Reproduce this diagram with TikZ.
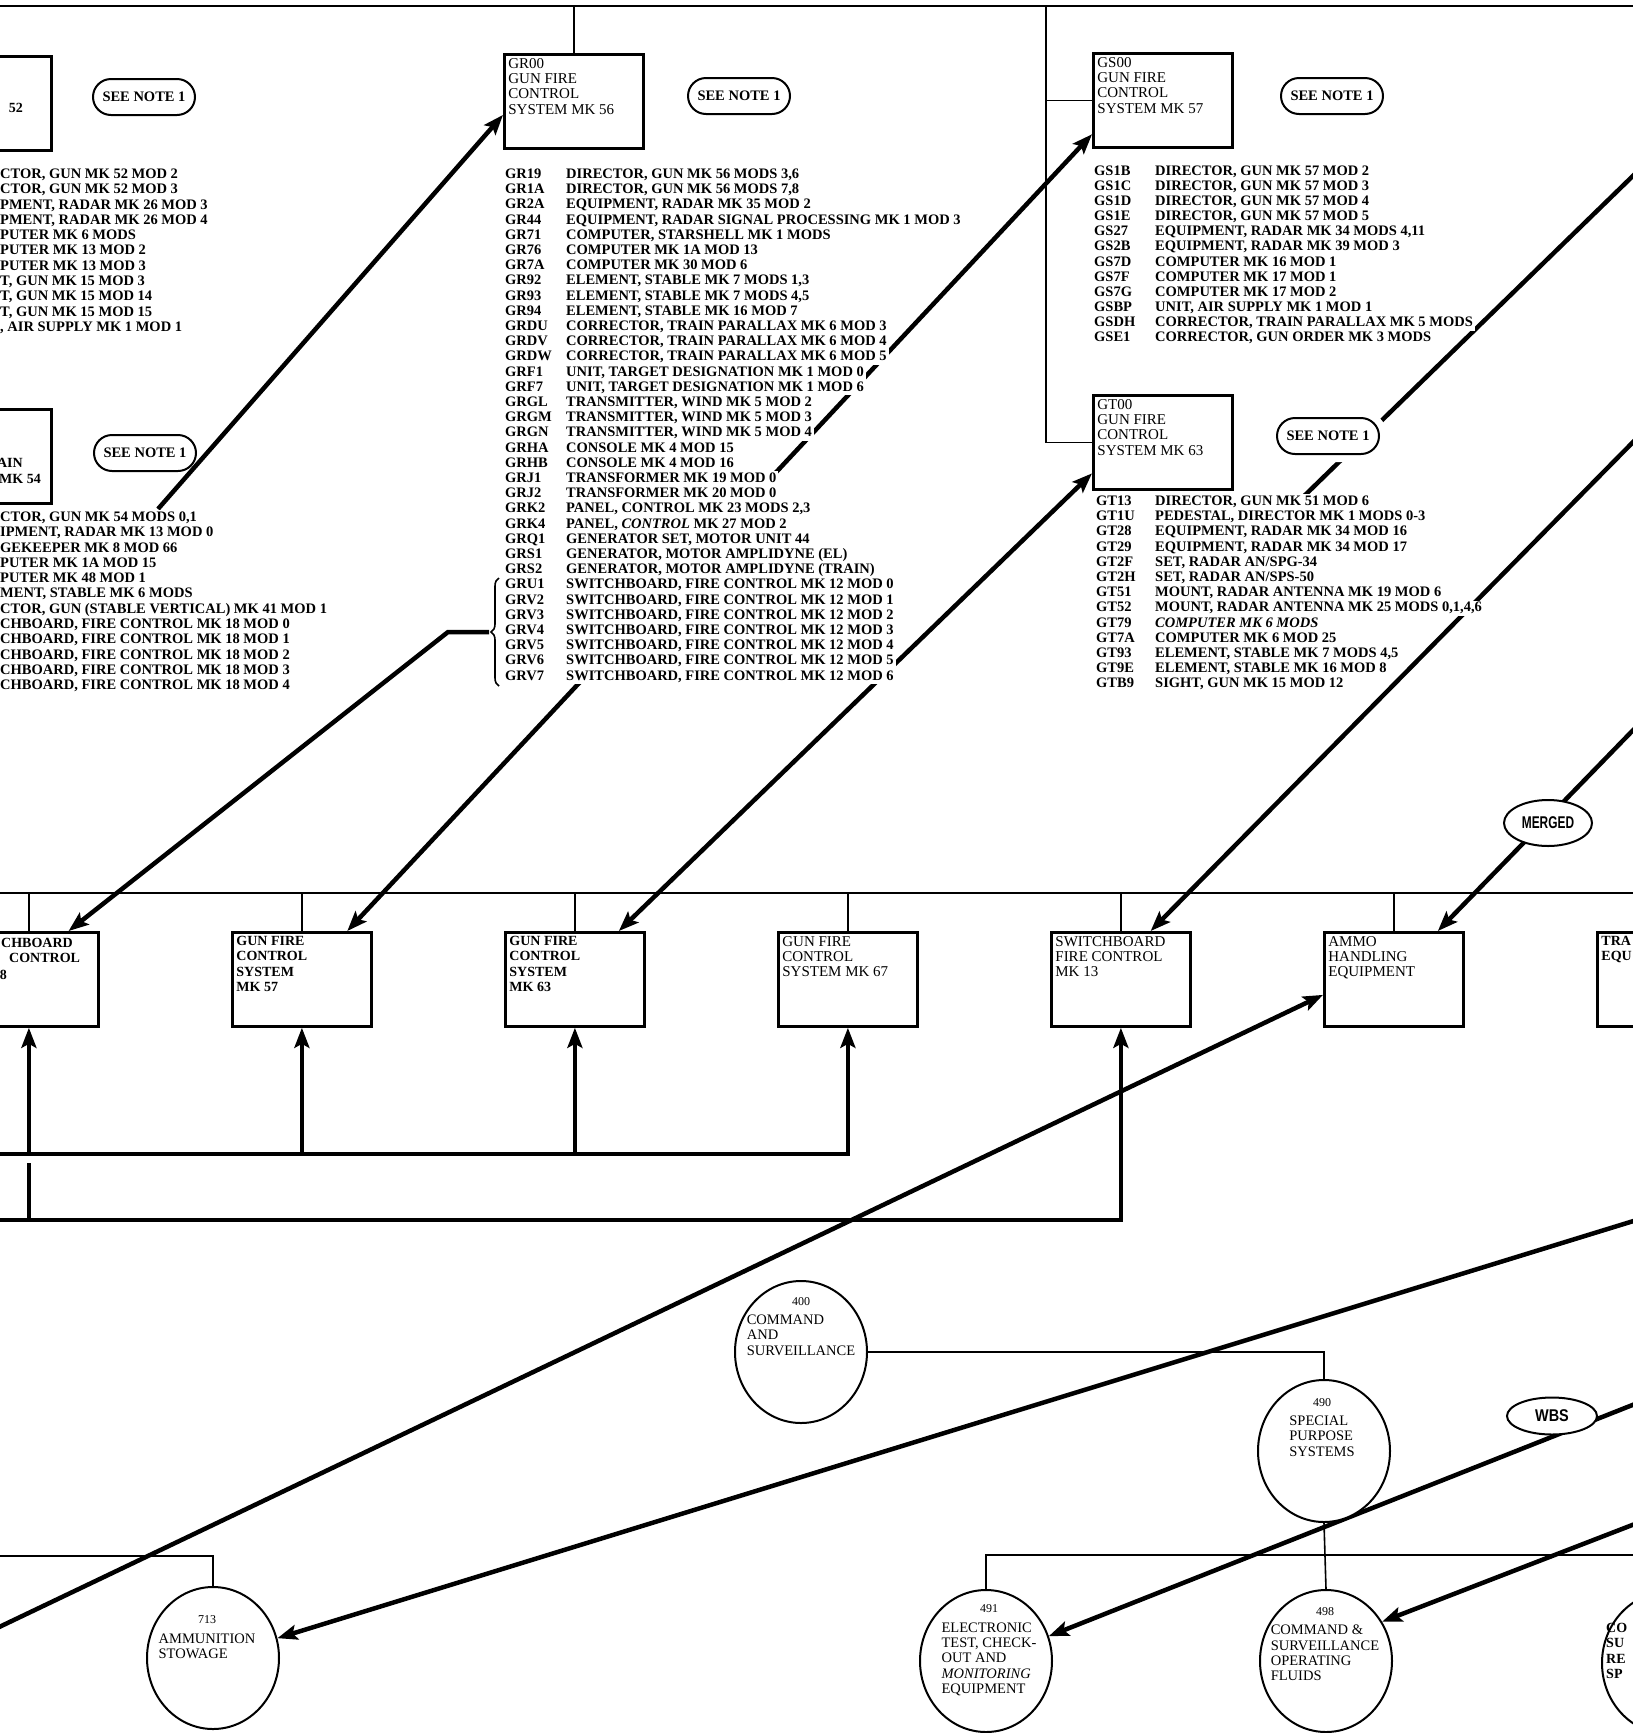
\documentclass[tikz,border=0pt]{standalone}
\usepackage{fontspec}
\usepackage{graphicx}
\setmainfont{Liberation Serif}
\newfontfamily\lettering{Liberation Sans}
\usepackage{tikz}
\usetikzlibrary{arrows.meta, calc, shapes.geometric, shapes.misc, decorations.pathreplacing}
\pgfdeclarelayer{lines}
\pgfsetlayers{lines,main}

\newcommand{\listfont}{\fontsize{14.5}{15.2}\selectfont\bfseries}
\newcommand{\boxfont}{\fontsize{15}{15.3}\selectfont}
\newcommand{\lowfont}{\fontsize{14}{15.3}\selectfont\bfseries}
\newcommand{\notefont}{\fontsize{14.5}{15}\selectfont\bfseries}
\newcommand{\unitfont}{\fontsize{14.5}{15.3}\selectfont}
\newcommand{\nofont}{\fontsize{12}{12}\selectfont}
\newcommand{\boxtxt}[1]{\begin{minipage}[t][86pt][t]{131pt}\raggedright #1\end{minipage}}

\begin{document}
\begin{tikzpicture}[x=1pt, y=-1pt,
    box/.style={draw, line width=2.8pt, inner sep=4pt, anchor=north west, fill=white, font=\boxfont},
    stub/.style={box, inner sep=0pt, minimum width=139pt, minimum height=94pt},
    row/.style={anchor=west, fill=white, inner xsep=2pt, inner ysep=0.6pt, text height=10.4pt, text depth=3.6pt, font=\listfont},
    note/.style={draw, line width=2pt, rounded rectangle, fill=white, minimum width=106pt, minimum height=36pt, inner sep=2pt, font=\notefont},
    halo/.style={preaction={draw=white, line width=16pt}},
    oval/.style={draw, line width=2pt, ellipse, fill=white, inner sep=0pt, font=\lettering\bfseries\fontsize{17}{17}\selectfont},
    unit/.style={draw, line width=2pt, ellipse, fill=white, inner sep=0pt, minimum width=132pt, minimum height=142pt},
    unittext/.style={inner sep=0pt, font=\unitfont},
    tree/.style={line width=1.6pt},
    link/.style={line width=4.5pt},
    arr/.style={link, -{Stealth[length=20pt, width=15pt, inset=4pt]}},
    dblarr/.style={link, {Stealth[length=20pt, width=15pt, inset=4pt]}-{Stealth[length=20pt, width=15pt, inset=4pt]}}
  ]
  \useasboundingbox (0,0) rectangle (1633,1733);
  \def\gap{15.2}

  % --- 1. upper systems and notes ---
  \node[box] (gr00) at (503,53) {\boxtxt{GR00\\GUN FIRE\\CONTROL\\SYSTEM MK 56}};
  \node[box] (gs00) at (1092,52) {\boxtxt{GS00\\GUN FIRE\\CONTROL\\SYSTEM MK 57}};
  \node[box] (gt00) at (1092,394) {\boxtxt{GT00\\GUN FIRE\\CONTROL\\SYSTEM MK 63}};
  \node[stub] (mk52) at (-89,55) {};
  \node[stub] (mk54) at (-89,408) {};
  \node[font=\lowfont, anchor=east, inner sep=0pt] (mk52t) at (23,108) {52};
  \node[font=\lowfont, anchor=east, inner sep=0pt] (mk54a) at (23,463) {AIN};
  \node[font=\lowfont, anchor=east, inner sep=0pt] (mk54b) at (41,479) {MK 54};

  \node[note] (noteA) at (144,97) {SEE NOTE 1};
  \node[note] (noteB) at (145,453) {SEE NOTE 1};
  \node[note] (noteR) at (739,96) {SEE NOTE 1};
  \node[note] (noteS) at (1332,96) {SEE NOTE 1};
  \node[note, halo] (noteT) at (1328,436) {SEE NOTE 1};

  % --- 2. item lists ---
  \foreach \d [count=\i from 0] in {{CTOR, GUN MK 52 MOD 2}, {CTOR, GUN MK 52 MOD 3},
      {PMENT, RADAR MK 26 MOD 3}, {PMENT, RADAR MK 26 MOD 4}, {PUTER MK 6 MODS},
      {PUTER MK 13 MOD 2}, {PUTER MK 13 MOD 3}, {T, GUN MK 15 MOD 3},
      {T, GUN MK 15 MOD 14}, {T, GUN MK 15 MOD 15}, {, AIR SUPPLY MK 1 MOD 1}}
    \node[row, inner xsep=0pt] (la\i) at (0,175+15.3*\i) {\d};

  \foreach \d [count=\i from 0] in {{CTOR, GUN MK 54 MODS 0,1}, {IPMENT, RADAR MK 13 MOD 0},
      {GEKEEPER MK 8 MOD 66}, {PUTER MK 1A MOD 15}, {PUTER MK 48 MOD 1},
      {MENT, STABLE MK 6 MODS}, {CTOR, GUN (STABLE VERTICAL) MK 41 MOD 1},
      {CHBOARD, FIRE CONTROL MK 18 MOD 0}, {CHBOARD, FIRE CONTROL MK 18 MOD 1},
      {CHBOARD, FIRE CONTROL MK 18 MOD 2}, {CHBOARD, FIRE CONTROL MK 18 MOD 3},
      {CHBOARD, FIRE CONTROL MK 18 MOD 4}}
    \node[row, inner xsep=0pt] (lb\i) at (0,518+15.3*\i) {\d};

  \foreach \c/\d [count=\i from 0] in {GR19/{DIRECTOR, GUN MK 56 MODS 3,6},
      GR1A/{DIRECTOR, GUN MK 56 MODS 7,8}, GR2A/{EQUIPMENT, RADAR MK 35 MOD 2},
      GR44/{EQUIPMENT, RADAR SIGNAL PROCESSING MK 1 MOD 3},
      GR71/{COMPUTER, STARSHELL MK 1 MODS}, GR76/{COMPUTER MK 1A MOD 13},
      GR7A/{COMPUTER MK 30 MOD 6}, GR92/{ELEMENT, STABLE MK 7 MODS 1,3},
      GR93/{ELEMENT, STABLE MK 7 MODS 4,5}, GR94/{ELEMENT, STABLE MK 16 MOD 7},
      GRDU/{CORRECTOR, TRAIN PARALLAX MK 6 MOD 3}, GRDV/{CORRECTOR, TRAIN PARALLAX MK 6 MOD 4},
      GRDW/{CORRECTOR, TRAIN PARALLAX MK 6 MOD 5}, GRF1/{UNIT, TARGET DESIGNATION MK 1 MOD 0},
      GRF7/{UNIT, TARGET DESIGNATION MK 1 MOD 6}, GRGL/{TRANSMITTER, WIND MK 5 MOD 2},
      GRGM/{TRANSMITTER, WIND MK 5 MOD 3}, GRGN/{TRANSMITTER, WIND MK 5 MOD 4},
      GRHA/{CONSOLE MK 4 MOD 15}, GRHB/{CONSOLE MK 4 MOD 16},
      GRJ1/{TRANSFORMER MK 19 MOD 0}, GRJ2/{TRANSFORMER MK 20 MOD 0},
      GRK2/{PANEL, CONTROL MK 23 MODS 2,3}, GRK4/{PANEL, \textit{CONTROL} MK 27 MOD 2},
      GRQ1/{GENERATOR SET, MOTOR UNIT 44}, GRS1/{GENERATOR, MOTOR AMPLIDYNE (EL)},
      GRS2/{GENERATOR, MOTOR AMPLIDYNE (TRAIN)},
      GRU1/{SWITCHBOARD, FIRE CONTROL MK 12 MOD 0}, GRV2/{SWITCHBOARD, FIRE CONTROL MK 12 MOD 1},
      GRV3/{SWITCHBOARD, FIRE CONTROL MK 12 MOD 2}, GRV4/{SWITCHBOARD, FIRE CONTROL MK 12 MOD 3},
      GRV5/{SWITCHBOARD, FIRE CONTROL MK 12 MOD 4}, GRV6/{SWITCHBOARD, FIRE CONTROL MK 12 MOD 5},
      GRV7/{SWITCHBOARD, FIRE CONTROL MK 12 MOD 6}} {
    \node[row] (gr-\c) at (503,175+\gap*\i) {\c};
    \node[row] (grd-\c) at (564,175+\gap*\i) {\d};
  }

  \foreach \c/\d [count=\i from 0] in {GS1B/{DIRECTOR, GUN MK 57 MOD 2},
      GS1C/{DIRECTOR, GUN MK 57 MOD 3}, GS1D/{DIRECTOR, GUN MK 57 MOD 4},
      GS1E/{DIRECTOR, GUN MK 57 MOD 5}, GS27/{EQUIPMENT, RADAR MK 34 MODS 4,11},
      GS2B/{EQUIPMENT, RADAR MK 39 MOD 3}, GS7D/{COMPUTER MK 16 MOD 1},
      GS7F/{COMPUTER MK 17 MOD 1}, GS7G/{COMPUTER MK 17 MOD 2},
      GSBP/{UNIT, AIR SUPPLY MK 1 MOD 1}, GSDH/{CORRECTOR, TRAIN PARALLAX MK 5 MODS},
      GSE1/{CORRECTOR, GUN ORDER MK 3 MODS}} {
    \node[row] (gs-\c) at (1092,172+15.1*\i) {\c};
    \node[row] (gsd-\c) at (1153,172+15.1*\i) {\d};
  }

  \foreach \c/\d [count=\i from 0] in {GT13/{DIRECTOR, GUN MK 51 MOD 6},
      GT1U/{PEDESTAL, DIRECTOR MK 1 MODS 0-3}, GT28/{EQUIPMENT, RADAR MK 34 MOD 16},
      GT29/{EQUIPMENT, RADAR MK 34 MOD 17}, GT2F/{SET, RADAR AN/SPG-34},
      GT2H/{SET, RADAR AN/SPS-50}, GT51/{MOUNT, RADAR ANTENNA MK 19 MOD 6},
      GT52/{MOUNT, RADAR ANTENNA MK 25 MODS 0,1,4,6}, GT79/{\textit{COMPUTER MK 6 MODS}},
      GT7A/{COMPUTER MK 6 MOD 25}, GT93/{ELEMENT, STABLE MK 7 MODS 4,5},
      GT9E/{ELEMENT, STABLE MK 16 MOD 8}, GTB9/{SIGHT, GUN MK 15 MOD 12}} {
    \node[row] (gt-\c) at (1094,502+\gap*\i) {\c};
    \node[row] (gtd-\c) at (1153,502+\gap*\i) {\d};
  }

  % --- 3. lower row of systems ---
  \node[stub] (sb18) at (-42,931) {};
  \node[box, font=\lowfont] (mk57) at (231,931) {\boxtxt{GUN FIRE\\CONTROL\\SYSTEM\\MK 57}};
  \node[box, font=\lowfont] (mk63) at (504,931) {\boxtxt{GUN FIRE\\CONTROL\\SYSTEM\\MK 63}};
  \node[box] (mk67) at (777,931) {\boxtxt{GUN FIRE\\CONTROL\\SYSTEM MK 67}};
  \node[box] (sb13) at (1050,931) {\boxtxt{SWITCHBOARD\\FIRE CONTROL\\MK 13}};
  \node[box] (ammo) at (1323,931) {\boxtxt{AMMO\\HANDLING\\EQUIPMENT}};
  \node[box, font=\lowfont] (traeq) at (1596,931) {\boxtxt{TRA\\EQU}};
  \node[font=\lowfont, anchor=north west, align=left, inner sep=0pt] (sb18t) at (1,938) {CHBOARD\\\hspace*{8pt}CONTROL};
  \node[font=\lowfont, anchor=east, inner sep=0pt] (sb18n) at (7,975) {8};

  \node[oval, minimum width=88pt, minimum height=46pt] (merged) at (1548,823) {\scalebox{0.7}[1]{MERGED}};
  \node[oval, minimum width=90pt, minimum height=37pt] (wbs) at (1552,1416) {\scalebox{0.85}[1]{WBS}};

  % --- 4. work breakdown units ---
  \node[unit] (u400) at (801,1352) {};
  \node[unittext] (u400t) at (801,1327) {\begin{tabular}{@{}l@{}}\multicolumn{1}{@{}c@{}}{\nofont 400}\\[4pt]COMMAND\\AND\\SURVEILLANCE\end{tabular}};
  \node[unit] (u490) at (1324,1451) {};
  \node[unittext] (u490t) at (1322,1428) {\begin{tabular}{@{}l@{}}\multicolumn{1}{@{}c@{}}{\nofont 490}\\[4pt]SPECIAL\\PURPOSE\\SYSTEMS\end{tabular}};
  \node[unit] (u713) at (213,1658) {};
  \node[unittext] (u713t) at (207,1638) {\begin{tabular}{@{}l@{}}\multicolumn{1}{@{}c@{}}{\nofont 713}\\[4pt]AMMUNITION\\STOWAGE\end{tabular}};
  \node[unit] (u491) at (986,1661) {};
  \node[unittext] (u491t) at (989,1650) {\begin{tabular}{@{}l@{}}\multicolumn{1}{@{}c@{}}{\nofont 491}\\[4pt]ELECTRONIC\\TEST, CHECK-\\OUT AND\\\textit{MONITORING}\\EQUIPMENT\end{tabular}};
  \node[unit] (u498) at (1326,1661) {};
  \node[unittext] (u498t) at (1325,1645) {\begin{tabular}{@{}l@{}}\multicolumn{1}{@{}c@{}}{\nofont 498}\\[4pt]COMMAND \&\\SURVEILLANCE\\OPERATING\\FLUIDS\end{tabular}};
  \node[unit] (u4xx) at (1668,1663) {};
  \node[font=\lowfont, anchor=west, align=left, inner sep=0pt] (u4xxt) at (1606,1651) {CO\\SU\\RE\\SP};

  % --- 5. connector ends ---
  \coordinate (topbar) at (0,6);
  \coordinate (spine) at (1046,6);
  \coordinate (lowbar) at (0,893);
  \coordinate (busA) at (-5,1154);
  \coordinate (busB) at (-5,1220);
  \coordinate (busAgap) at (0,1163);
  \coordinate (leftbus) at (-5,1556);
  \coordinate (rightbus) at (1640,1555);
  \coordinate (noteBend) at (158,509);
  \coordinate (brtip) at (489,632);
  \coordinate (brknee) at (448,632);
  \coordinate (gt13end) at (1300,500);
  \coordinate (edgeA) at (1640,435);
  \coordinate (edgeB) at (1640,169);
  \coordinate (edgeC) at (1640,723);
  \coordinate (edgeD) at (-5,1629);
  \coordinate (edgeE) at (1640,1219);
  \coordinate (edgeF) at (1640,1402);
  \coordinate (edgeG) at (1640,1522);
  \coordinate (gr00in) at ($(gr00.south west)!0.36!(gr00.north west)$);
  \coordinate (gs00in) at ($(gs00.south west)!0.15!(gs00.north west)$);
  \coordinate (gt00in) at ($(gt00.south west)!0.18!(gt00.north west)$);
  \coordinate (sb18in) at ($(sb18.north west)!0.78!(sb18.north east)$);
  \coordinate (mk57in) at ($(mk57.north west)!0.82!(mk57.north east)$);
  \coordinate (mk63in) at ($(mk63.north west)!0.81!(mk63.north east)$);
  \coordinate (sb13in) at ($(sb13.north west)!0.71!(sb13.north east)$);
  \coordinate (ammotop) at ($(ammo.north west)!0.81!(ammo.north east)$);
  \coordinate (ammoleft) at ($(ammo.south west)!0.34!(ammo.north west)$);

  % --- 6. lines and links ---
  \begin{pgfonlayer}{lines}
    \draw[tree] (-5,6) -- (1640,6);
    \draw[tree] (gr00.north) -- (gr00.north |- topbar);
    \draw[tree] (spine) |- (gt00.west);
    \draw[tree] (gs00.west) -- (gs00.west -| spine);
    \draw[tree, decorate, decoration={brace, amplitude=8pt}] (499,686) -- (499,578);

    \draw[tree] (-5,893) -- (1640,893);
    \foreach \b in {sb18, mk57, mk63, mk67, sb13, ammo, traeq}
      \draw[tree] (\b.north) -- (\b.north |- lowbar);
    \draw[arr] (busA) -| (mk67.south);
    \foreach \b in {sb18, mk57, mk63}
      \draw[arr] (\b.south |- busA) -- (\b.south);
    \draw[arr] (busB) -| (sb13.south);
    \draw[link] (sb18.south |- busB) -- (sb18.south |- busAgap);

    \draw[tree] (u400.east) -| (u490.north);
    \draw[tree] (u490.south) -- (u498.north);
    \draw[tree] (u491.north) |- (rightbus);
    \draw[tree] (leftbus) -| (u713.north);

    \draw[arr] (noteBend) -- (gr00in);
    \draw[arr] (brtip) -- (brknee) -- (sb18in);
    \draw[dblarr] (mk57in) -- (gs00in);
    \draw[dblarr] (mk63in) -- (gt00in);
    \draw[arr] (edgeA) -- (sb13in);
    \draw[link] (gt13end) -- (edgeB);
    \draw[arr] (edgeC) -- (ammotop);
    \draw[arr] (edgeD) -- (ammoleft);
    \draw[arr] (edgeE) -- (u713);
    \draw[arr] (edgeF) -- (u491);
    \draw[arr] (edgeG) -- (u498.35);
  \end{pgfonlayer}
\end{tikzpicture}
\end{document}
